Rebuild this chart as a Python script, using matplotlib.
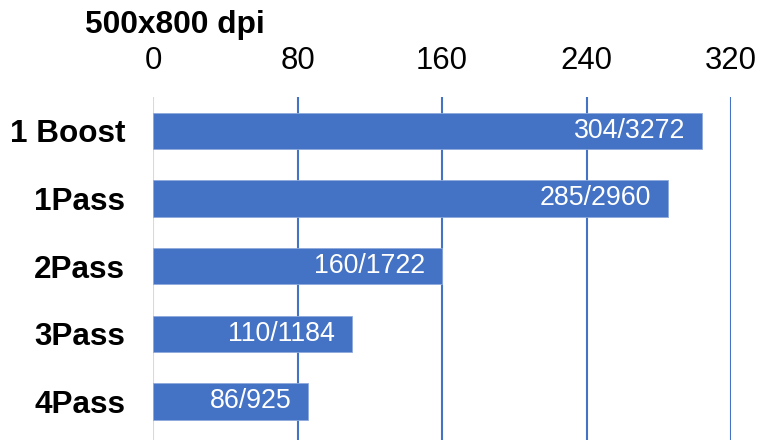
import matplotlib
matplotlib.use("Agg")
import matplotlib.pyplot as plt

categories = ["1 Boost", "1Pass", "2Pass", "3Pass", "4Pass"]
values = [304, 285, 160, 110, 86]
bar_labels = ["304/3272", "285/2960", "160/1722", "110/1184", "86/925"]
ticks = [0, 80, 160, 240, 320]
title = "500x800 dpi"

BLUE = "#4472C4"
plt.rcParams["font.family"] = ["Liberation Sans", "DejaVu Sans"]

fig = plt.figure(figsize=(7.7, 4.4), dpi=100)
ax = fig.add_axes([153 / 770, 0.0, (731 - 153) / 770, 1 - 97 / 440])

y = list(range(len(categories)))
bars = ax.barh(y, values, height=0.54, color=BLUE, edgecolor="#8faadc",
               linewidth=0.6, zorder=3)

ax.set_xlim(0, 320)
ax.set_ylim(len(categories) - 0.5 + 0.07, -0.5)
ax.set_xticks(ticks)
ax.set_xticklabels([str(t) for t in ticks], fontsize=22.4)
ax.xaxis.tick_top()
ax.tick_params(axis="x", length=0, pad=15)
ax.set_yticks(y)
ax.set_yticklabels(categories, fontsize=22.7, fontweight="bold")
ax.tick_params(axis="y", length=0, pad=20)

for s in ax.spines.values():
    s.set_visible(False)

for t in ticks[1:]:
    ax.axvline(t, color=BLUE, lw=1.5, zorder=2)
ax.axvline(0, color="#d9d9d9", lw=1.5, zorder=2)

for bar, lab in zip(bars, bar_labels):
    ax.text(bar.get_width() - 17 * 320 / 578, bar.get_y() + bar.get_height() / 2,
            lab, ha="right", va="center", color="white", fontsize=19.3, zorder=4)

fig.text(175 / 770, 1 - 25 / 440, title, ha="center", va="center",
         fontsize=22.9, fontweight="bold")

fig.savefig("out.png", dpi=100)
